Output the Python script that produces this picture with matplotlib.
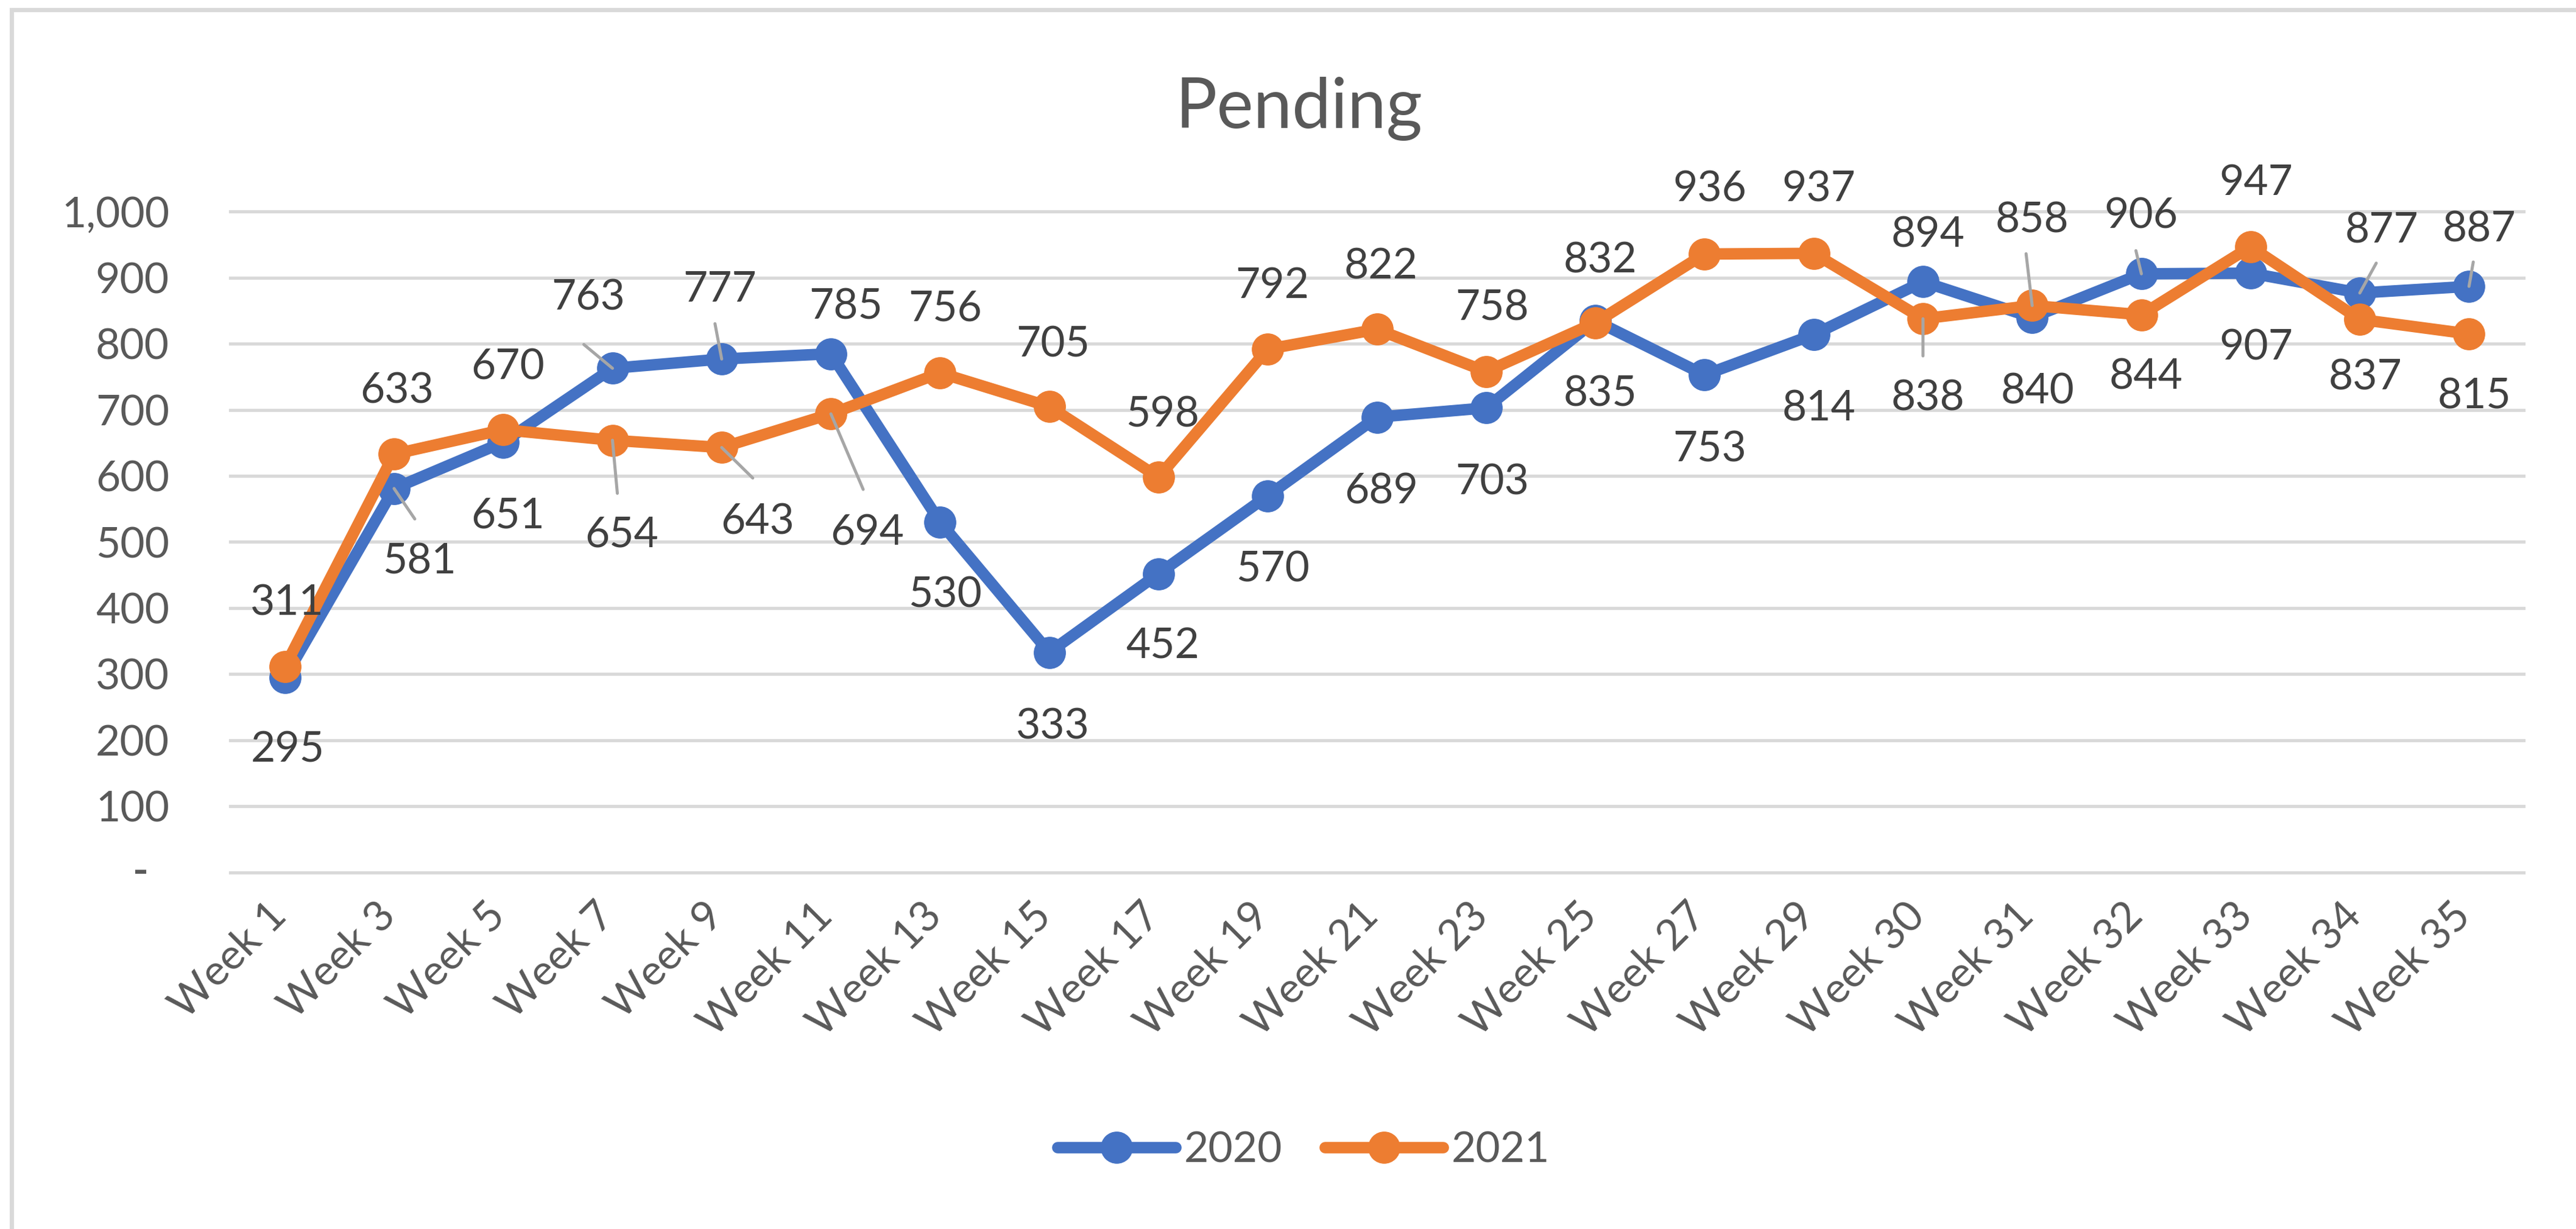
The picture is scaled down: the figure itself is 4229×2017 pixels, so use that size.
import matplotlib
matplotlib.use("Agg")
import matplotlib.pyplot as plt
from matplotlib.lines import Line2D
from matplotlib.patches import Rectangle
from matplotlib import transforms
from matplotlib.ticker import FixedLocator, FuncFormatter

# ---------------- data ----------------
weeks = ["Week 1", "Week 3", "Week 5", "Week 7", "Week 9", "Week 11", "Week 13",
         "Week 15", "Week 17", "Week 19", "Week 21", "Week 23", "Week 25", "Week 27",
         "Week 29", "Week 30", "Week 31", "Week 32", "Week 33", "Week 34", "Week 35"]
v2020 = [295, 581, 651, 763, 777, 785, 530, 333, 452, 570, 689, 703, 835, 753,
         814, 894, 840, 906, 907, 877, 887]
v2021 = [311, 633, 670, 654, 643, 694, 756, 705, 598, 792, 822, 758, 832, 936,
         937, 838, 858, 844, 947, 837, 815]
series_names = ["2020", "2021"]
yticks = [0, 100, 200, 300, 400, 500, 600, 700, 800, 900, 1000]
title = "Pending"

# ---------------- layout (label offsets in pixels: dx right, dy down) ----------------
off2020 = [(5, 114), (42, 115), (7, 116), (-40, -121), (-3, -119), (25, -82), (8, 115),
           (6, 117), (7, 114), (8, 116), (7, 117), (10, 117), (8, 115), (8, 117),
           (8, 116), (8, -82), (9, 117), (-1, -100), (9, 117), (36, -107), (17, -98)]
off2021 = [(4, -110), (5, -109), (7, -108), (15, 150), (59, 117), (60, 190), (8, -110),
           (6, -107), (7, -108), (8, -109), (7, -108), (10, -109), (8, -107), (8, -111),
           (8, -110), (8, 125), (0, -145), (8, 97), (9, -110), (9, 90), (9, 97)]
lead2020 = {1: (34, 50), 3: (-47, -39), 4: (-11, -58), 17: (-9, -38), 19: (27, -49), 20: (7, -40)}
lead2021 = {3: (8, 87), 4: (51, 50), 5: (53, 124), 15: (0, 61), 16: (-10, -85)}

BLUE = "#4472C4"
ORANGE = "#ED7D31"
TXT = "#595959"
LBL = "#404040"
GRID = "#D9D9D9"
LEAD = "#A6A6A6"
FONT = "Lato"
FS = 50
LW = 13.5
MS = 37

plt.rcParams['font.family'] = [FONT, 'DejaVu Sans']

W, H = 4229, 2017
fig = plt.figure(figsize=(W / 100, H / 100), dpi=100)
fig.patch.set_facecolor("white")

left, right = 378 / W, 4143 / W
bottom, top = 1 - 1431.5 / H, 1 - 347.5 / H
ax = fig.add_axes([left, bottom, right - left, top - bottom])

x = list(range(len(weeks)))
ax.plot(x, v2020, color=BLUE, lw=LW, marker='o', ms=MS, zorder=3,
        solid_capstyle='round', solid_joinstyle='round', label=series_names[0])
ax.plot(x, v2021, color=ORANGE, lw=LW, marker='o', ms=MS, zorder=4,
        solid_capstyle='round', solid_joinstyle='round', label=series_names[1])

ax.set_xlim(-0.5, len(weeks) - 0.5)
ax.set_ylim(0, 1000)

for s in ax.spines.values():
    s.set_visible(False)

ax.yaxis.set_major_locator(FixedLocator(yticks))
ax.yaxis.set_major_formatter(FuncFormatter(lambda v, p: "" if v == 0 else f"{v:,.0f}"))
ax.grid(axis='y', color=GRID, lw=3.8, zorder=0)
ax.set_axisbelow(True)
for gl in ax.get_ygridlines():
    gl.set_clip_on(False)
ax.tick_params(axis='y', length=0, pad=72, labelsize=FS, labelcolor=TXT)

# dash for zero (accounting style)
trans_dash = transforms.blended_transform_factory(fig.transFigure, ax.transData)
ax.text(231 / W, 0, "-", transform=trans_dash, ha='center', va='center',
        fontsize=FS, color=TXT, fontweight='bold')

ax.set_xticks(x)
ax.set_xticklabels(weeks)
ax.tick_params(axis='x', length=0, pad=44, labelsize=FS, labelcolor=TXT)
shift = transforms.ScaledTranslation(-0.08, 0, fig.dpi_scale_trans)
for lab in ax.get_xticklabels():
    lab.set_rotation(45)
    lab.set_ha('right')
    lab.set_va('center')
    lab.set_rotation_mode('anchor')
    lab.set_transform(lab.get_transform() + shift)

# data labels
def add_labels(vals, offs, leads):
    for i, v in enumerate(vals):
        dx, dy = offs[i]
        ax.annotate(f"{v:,}", xy=(i, v), xytext=(dx, -(dy + 25)),
                    textcoords='offset pixels', ha='center', va='baseline',
                    fontsize=FS, color=LBL, zorder=7, annotation_clip=False)
    for i, (lx, ly) in leads.items():
        ax.annotate("", xy=(i, vals[i]), xytext=(lx, -ly), textcoords='offset pixels',
                    arrowprops=dict(arrowstyle='-', color=LEAD, lw=3.6,
                                    shrinkA=0, shrinkB=0),
                    zorder=6, annotation_clip=False)

add_labels(v2020, off2020, lead2020)
add_labels(v2021, off2021, lead2021)

# title
fig.text(2133 / W, 1 - 210 / H, title, ha='center', va='baseline',
         fontsize=82, color=TXT)

# legend
handles = [Line2D([], [], color=BLUE, lw=LW, marker='o', ms=MS, solid_capstyle='round'),
           Line2D([], [], color=ORANGE, lw=LW, marker='o', ms=MS, solid_capstyle='round')]
leg = fig.legend(handles, series_names, loc='center', ncol=2,
                 bbox_to_anchor=(2140 / W, 1 - 1888 / H), frameon=False,
                 fontsize=FS, handlelength=2.8, handletextpad=0.2, columnspacing=1.0,
                 borderaxespad=0, borderpad=0)
for t in leg.get_texts():
    t.set_color(TXT)

# chart border (top/left visible)
fig.add_artist(Rectangle((19 / W, -0.2), 1.5, (1 - 16 / H) + 0.2, transform=fig.transFigure,
                         fill=False, edgecolor=GRID, lw=5))

fig.savefig("out.png", dpi=100, facecolor="white")
